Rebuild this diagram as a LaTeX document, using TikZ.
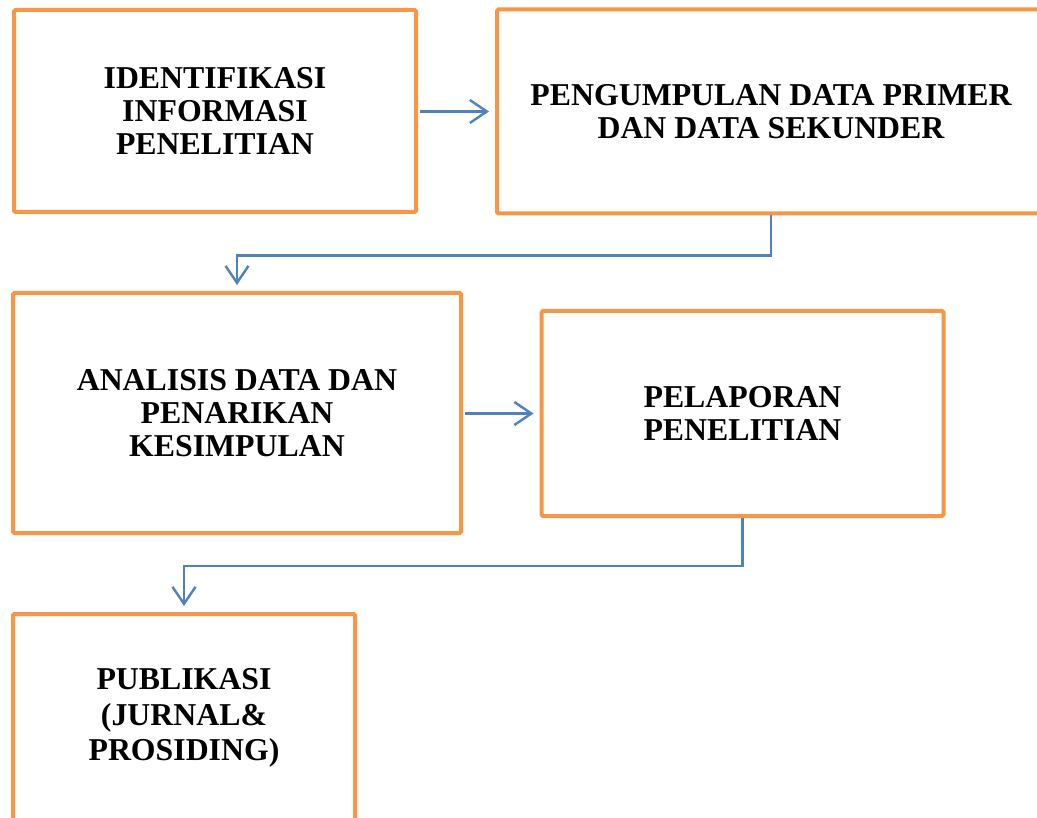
\documentclass[tikz,border=0pt]{standalone}
\usepackage{fontspec}
\setmainfont{Liberation Serif}
\usetikzlibrary{arrows.meta}
\definecolor{boxorange}{HTML}{F79646}
\definecolor{lineblue}{HTML}{4F81BD}
\tikzset{
  stepbox/.style={draw=boxorange, line width=4pt, rounded corners=1.5pt, inner sep=0pt,
    align=center, font=\bfseries\fontsize{31.8}{33}\selectfont},
  flow/.style={draw=lineblue, line width=2.4pt, -{Straight Barb[length=17pt,width=23pt,line width=2.4pt]}}
}
\begin{document}
\begin{tikzpicture}[x=1pt,y=-1pt]
\useasboundingbox (0,0) rectangle (1037,818);
\clip (0,0) rectangle (1037,818);
\fill[white] (0,0) rectangle (1037,818);
\node[stepbox, minimum width=402pt, minimum height=202pt] (b1) at (215,111) {IDENTIFIKASI\\INFORMASI\\PENELITIAN};
\node[stepbox, minimum width=548pt, minimum height=204pt] (b2) at (771,111.5) {PENGUMPULAN DATA PRIMER\\DAN DATA SEKUNDER};
\node[stepbox, minimum width=448pt, minimum height=240pt] (b3) at (237,413) {ANALISIS DATA DAN\\PENARIKAN\\KESIMPULAN};
\node[stepbox, minimum width=402pt, minimum height=205pt] (b4) at (742.5,413.5) {PELAPORAN\\PENELITIAN};
\node[stepbox, minimum width=342pt, minimum height=208pt, font=\bfseries\fontsize{31.8}{35.5}\selectfont] (b5) at (184,718) {PUBLIKASI\\(JURNAL\&\\PROSIDING)};
\draw[flow, shorten <=2pt, shorten >=6pt] (b1.east |- 0,111.5) -- (b2.west |- 0,111.5);
\draw[flow, shorten >=6pt] (b2.south) -- ++(0,40) -| (b3.north);
\draw[flow, shorten <=2pt, shorten >=6pt] (b3.east |- b4.west) -- (b4.west);
\draw[flow, shorten >=6pt] (b4.south) -- ++(0,48) -| (b5.north);
\end{tikzpicture}
\end{document}
